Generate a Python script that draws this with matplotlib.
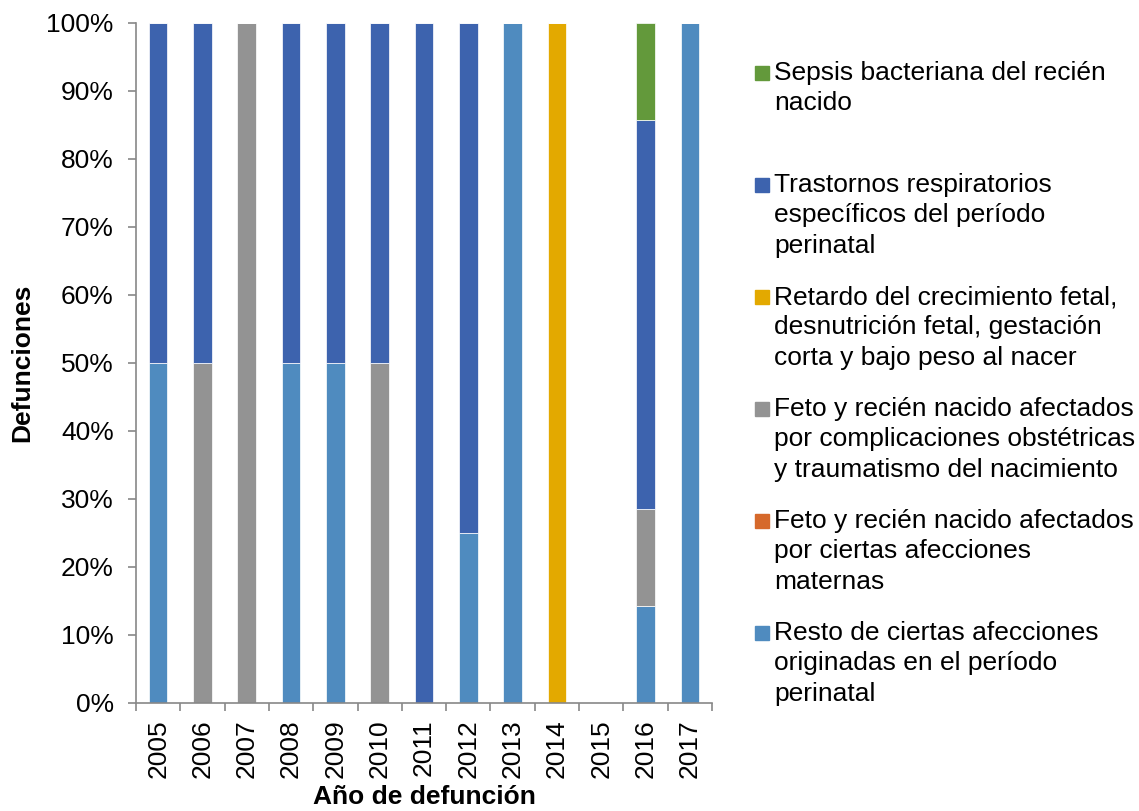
import numpy as np
import matplotlib.pyplot as plt
from matplotlib.patches import Rectangle

plt.rcParams['font.family'] = ['Liberation Sans', 'DejaVu Sans']

years = ['2005', '2006', '2007', '2008', '2009', '2010', '2011',
         '2012', '2013', '2014', '2015', '2016', '2017']

# percentage of deaths per cause (stack order: bottom -> top)
resto          = [50, 0, 0, 50, 50, 0, 0, 25, 100, 0, 0, 14.3, 100]
maternas       = [0, 0, 0, 0, 0, 0, 0, 0, 0, 0, 0, 0, 0]
complicaciones = [0, 50, 100, 0, 0, 50, 0, 0, 0, 0, 0, 14.3, 0]
retardo        = [0, 0, 0, 0, 0, 0, 0, 0, 0, 100, 0, 0, 0]
respiratorios  = [50, 50, 0, 50, 50, 50, 100, 75, 0, 0, 0, 57.1, 0]
sepsis         = [0, 0, 0, 0, 0, 0, 0, 0, 0, 0, 0, 14.3, 0]

series = [resto, maternas, complicaciones, retardo, respiratorios, sepsis]
labels = [
    "Resto de ciertas afecciones\noriginadas en el período\nperinatal",
    "Feto y recién nacido afectados\npor ciertas afecciones\nmaternas",
    "Feto y recién nacido afectados\npor complicaciones obstétricas\ny traumatismo del nacimiento",
    "Retardo del crecimiento fetal,\ndesnutrición fetal, gestación\ncorta y bajo peso al nacer",
    "Trastornos respiratorios\nespecíficos del período\nperinatal",
    "Sepsis bacteriana del recién\nnacido",
]
colors = ['#4F8BBF', '#D6692B', '#939393', '#E3A900', '#3D63AE', '#63993B']

W, H = 1139, 811
fig = plt.figure(figsize=(W / 100, H / 100), dpi=100)
ax = fig.add_axes([136 / W, 1 - 703 / H, (712 - 136) / W, (703 - 23) / H])

x = np.arange(len(years))
bottom = np.zeros(len(years))
for vals, c in zip(series, colors):
    vals = np.array(vals, dtype=float)
    ax.bar(x, vals, width=0.42, bottom=bottom, color=c, edgecolor='white', linewidth=0.5)
    bottom += vals

ax.set_xlim(-0.5, len(years) - 0.5)
ax.set_ylim(0, 100)
ax.set_yticks(np.arange(0, 101, 10))
ax.set_yticklabels([f'{v}%' for v in range(0, 101, 10)])
ax.set_xticks(x)
ax.set_xticklabels(years, rotation=90)
ax.set_xticks(np.arange(-0.5, len(years), 1), minor=True)

for s in ['top', 'right']:
    ax.spines[s].set_visible(False)
for s in ['left', 'bottom']:
    ax.spines[s].set_color('#888888')
    ax.spines[s].set_linewidth(1.2)

ax.tick_params(axis='y', length=6, color='#888888', labelsize=19, pad=10, width=1.2)
ax.tick_params(axis='x', which='major', length=0, labelsize=19, pad=12)
ax.tick_params(axis='x', which='minor', length=6, color='#888888', width=1.2)

ax.set_xlabel('Año de defunción', fontsize=19, fontweight='bold', labelpad=5)
ax.set_ylabel('Defunciones', fontsize=19, fontweight='bold', labelpad=9)

# legend drawn Excel-style (top entry = top of stack)
for i, (lab, c) in enumerate(zip(labels[::-1], colors[::-1])):
    yc = 73 + 112 * i
    fig.add_artist(Rectangle((755 / W, 1 - (yc + 7) / H), 14 / W, 14 / H,
                             transform=fig.transFigure, color=c))
    fig.text(774 / W, 1 - (yc - 12) / H, lab, fontsize=19, va='top', ha='left',
             linespacing=1.33)

fig.savefig('out.png', dpi=100)
